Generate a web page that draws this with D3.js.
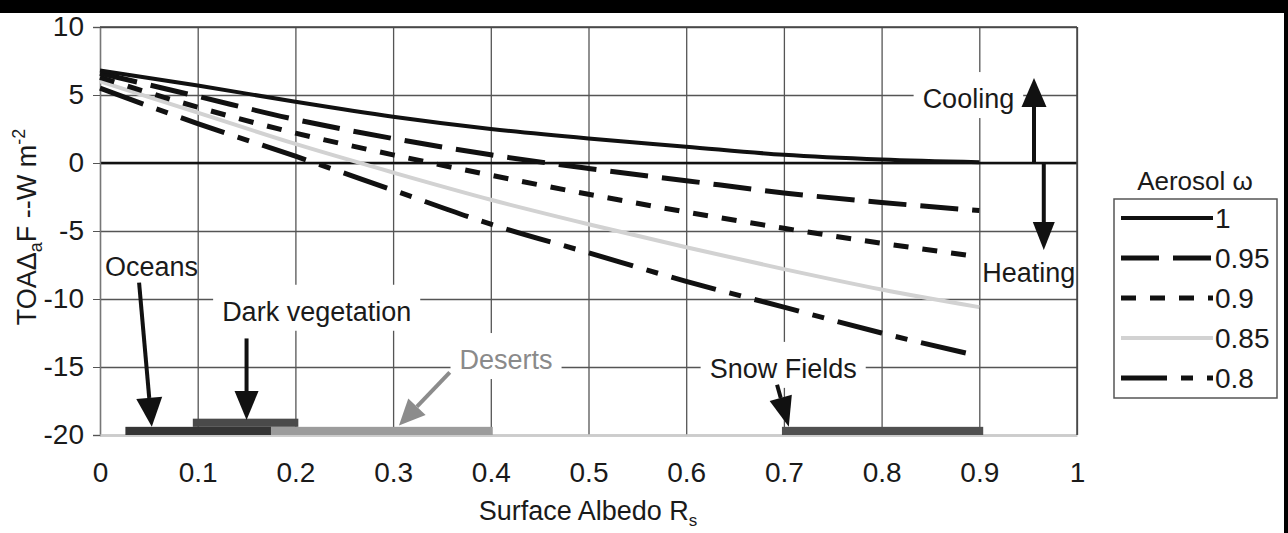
<!DOCTYPE html>
<html>
<head>
<meta charset="utf-8">
<script src="https://cdn.jsdelivr.net/npm/d3@7"></script>
<style>
body { margin: 0; background: #fff; }
svg { display: block; }
text { font-family: "Liberation Sans", Arial, sans-serif; fill: #1a1a1a; }
</style>
</head>
<body>
<div id="chart"></div>
<script>
//surface albedo sample points
var albedo = [0, 0.1, 0.2, 0.3, 0.4, 0.5, 0.6, 0.7, 0.8, 0.9];

//TOA aerosol forcing (W m-2) for each aerosol single scattering albedo
var omega100 = [6.8, 5.7, 4.5, 3.4, 2.5, 1.8, 1.2, 0.6, 0.25, 0.05];
var omega095 = [6.6, 4.9, 3.2, 1.8, 0.6, -0.4, -1.3, -2.2, -2.9, -3.5];
var omega090 = [6.3, 4.1, 2.2, 0.6, -0.9, -2.3, -3.6, -4.8, -5.9, -6.9];
var omega085 = [6.0, 3.7, 1.4, -0.7, -2.7, -4.5, -6.2, -7.8, -9.3, -10.6];
var omega080 = [5.5, 2.9, 0.5, -2.0, -4.5, -6.6, -8.7, -10.6, -12.5, -14.2];
var omegaLabels = ["1", "0.95", "0.9", "0.85", "0.8"];

//tick labels
var xTicks = [0, 0.1, 0.2, 0.3, 0.4, 0.5, 0.6, 0.7, 0.8, 0.9, 1];
var yTicks = [10, 5, 0, -5, -10, -15, -20];

//albedo ranges of surface types
var surfaceNames = ["Dark vegetation", "Oceans", "Deserts", "Snow Fields"];
var surfaceFrom = [0.095, 0.026, 0.175, 0.698];
var surfaceTo = [0.203, 0.175, 0.402, 0.904];
var surfaceLow = [-19.4, -20, -20, -20];
var surfaceHigh = [-18.8, -19.4, -19.4, -19.4];

//annotation arrows (data units): start and tip
var arrowFromX = [0.040, 0.150, 0.358, 0.693, 0.956, 0.966];
var arrowFromY = [-8.8, -12.9, -15.4, -16.3, 0, 0];
var arrowToX = [0.053, 0.150, 0.306, 0.705, 0.956, 0.966];
var arrowToY = [-19.4, -18.9, -19.3, -19.4, 6.25, -6.4];

//annotation texts (data units, left / baseline)
var noteText = ["Oceans", "Dark vegetation", "Deserts", "Snow Fields", "Cooling", "Heating"];
var noteX = [0.005, 0.125, 0.368, 0.624, 0.842, 0.903];
var noteY = [-8.3, -11.6, -15.15, -15.8, 4.04, -8.75];

//Stablish svg size
var svgWidth = 1288;
var svgHeight = 533;

var margin = {top: 27, right: 211, bottom: 98, left: 100};
var width = svgWidth - margin.left - margin.right;
var height = svgHeight - margin.top - margin.bottom;

var svg = d3.select("#chart")
    .append("svg")
    .attr("width", svgWidth)
    .attr("height", svgHeight);

svg.append("rect").attr("width", svgWidth).attr("height", svgHeight).attr("fill", "#fff");

var chartGroup = svg.append("g")
    .attr("transform", `translate(${margin.left}, ${margin.top})`);

var xScale = d3.scaleLinear().domain([0, 1]).range([0, width]);
var yScale = d3.scaleLinear().domain([-20, 10]).range([height, 0]);

//grid lines
chartGroup.append("g")
    .attr("class", "grid")
    .call(d3.axisLeft(yScale).tickValues(yTicks).tickSize(-width).tickFormat(""))
    .call(g => g.select(".domain").remove())
    .selectAll("line").attr("stroke", "#555").attr("stroke-width", 1.3);

chartGroup.append("g")
    .attr("class", "grid")
    .call(d3.axisBottom(xScale).tickValues(xTicks).tickSize(height).tickFormat(""))
    .call(g => g.select(".domain").remove())
    .selectAll("line").attr("stroke", "#555").attr("stroke-width", 1.3);

//zero line
chartGroup.append("line")
    .attr("x1", 0).attr("x2", width)
    .attr("y1", yScale(0)).attr("y2", yScale(0))
    .attr("stroke", "#111").attr("stroke-width", 2.5);

//left axis with ticks
var leftAxis = chartGroup.append("g")
    .call(d3.axisLeft(yScale).tickValues(yTicks).tickSize(7).tickPadding(9).tickFormat(d => String(d)));
leftAxis.select(".domain").attr("stroke", "#777").attr("stroke-width", 1.3);
leftAxis.selectAll("line").attr("stroke", "#555");
leftAxis.selectAll("text").attr("font-size", "28px").attr("fill", "#1a1a1a")
    .attr("font-family", "Liberation Sans, Arial, sans-serif");

//bottom axis labels
var bottomAxis = chartGroup.append("g")
    .attr("transform", `translate(0, ${height})`)
    .call(d3.axisBottom(xScale).tickValues(xTicks).tickSize(0).tickPadding(27).tickFormat(d => String(d)));
bottomAxis.select(".domain").attr("stroke", "#ccc").attr("stroke-width", 2.5);
bottomAxis.selectAll("text").attr("font-size", "28px").attr("fill", "#1a1a1a")
    .attr("font-family", "Liberation Sans, Arial, sans-serif");

//top and right border
chartGroup.append("line").attr("x1", 0).attr("x2", width).attr("y1", 0).attr("y2", 0)
    .attr("stroke", "#444").attr("stroke-width", 1.5);
chartGroup.append("line").attr("x1", width).attr("x2", width).attr("y1", 0).attr("y2", height)
    .attr("stroke", "#444").attr("stroke-width", 1.5);

//annotation texts with white boxes hiding the grid
var boxed = [false, true, true, true, true, false];
var noteColor = ["#1a1a1a", "#1a1a1a", "#8a8a8a", "#1a1a1a", "#1a1a1a", "#1a1a1a"];
var noteGroup = chartGroup.append("g");
var noteLabels = noteText.map(function(t, i){
    return noteGroup.append("text")
        .attr("x", xScale(noteX[i]))
        .attr("y", yScale(noteY[i]))
        .attr("font-size", "27px")
        .style("fill", noteColor[i])
        .text(t);
});
noteLabels.forEach(function(lbl, i){
    if(!boxed[i]) return;
    var b = lbl.node().getBBox();
    noteGroup.insert("rect", "text")
        .attr("x", b.x - 9).attr("y", b.y - 12)
        .attr("width", b.width + 18).attr("height", b.height + 16)
        .attr("fill", "#fff");
});

//aerosol curves
var series = [omega100, omega095, omega090, omega085, omega080];
var seriesStyle = [
    {color: "#111", width: 4, dash: null},
    {color: "#111", width: 5, dash: "38,14"},
    {color: "#111", width: 5, dash: "15,14"},
    {color: "#d2d2d2", width: 4, dash: null},
    {color: "#111", width: 5, dash: "46,14,12,14"}
];

var line = d3.line()
    .x((d, i) => xScale(albedo[i]))
    .y(d => yScale(d))
    .curve(d3.curveMonotoneX);

[3, 4, 2, 1, 0].forEach(function(k){
    chartGroup.append("path")
        .datum(series[k])
        .attr("d", line)
        .attr("fill", "none")
        .attr("stroke", seriesStyle[k].color)
        .attr("stroke-width", seriesStyle[k].width)
        .attr("stroke-dasharray", seriesStyle[k].dash);
});

//surface type bars
var surfaceColor = ["#4a4a4a", "#353535", "#9c9c9c", "#505050"];
surfaceNames.forEach(function(name, i){
    chartGroup.append("rect")
        .attr("x", xScale(surfaceFrom[i]))
        .attr("y", yScale(surfaceHigh[i]))
        .attr("width", xScale(surfaceTo[i]) - xScale(surfaceFrom[i]))
        .attr("height", yScale(surfaceLow[i]) - yScale(surfaceHigh[i]))
        .attr("fill", surfaceColor[i]);
});

//arrows
var arrowColor = ["#111", "#111", "#8c8c8c", "#111", "#111", "#111"];
var arrowHead = [[29, 26], [29, 24], [26, 24], [30, 23], [29, 25], [28, 22]];
function drawArrow(x1, y1, x2, y2, color, hl, hw){
    var dx = x2 - x1, dy = y2 - y1;
    var len = Math.sqrt(dx * dx + dy * dy);
    var ux = dx / len, uy = dy / len;
    var bx = x2 - ux * hl, by = y2 - uy * hl;
    chartGroup.append("line")
        .attr("x1", x1).attr("y1", y1).attr("x2", bx).attr("y2", by)
        .attr("stroke", color).attr("stroke-width", 4);
    chartGroup.append("path")
        .attr("d", `M${x2},${y2}L${bx - uy * hw / 2},${by + ux * hw / 2}L${bx + uy * hw / 2},${by - ux * hw / 2}Z`)
        .attr("fill", color);
}
arrowFromX.forEach(function(v, i){
    drawArrow(xScale(arrowFromX[i]), yScale(arrowFromY[i]), xScale(arrowToX[i]), yScale(arrowToY[i]),
        arrowColor[i], arrowHead[i][0], arrowHead[i][1]);
});

//x axis title
var xTitle = svg.append("text")
    .attr("x", 588).attr("y", 520)
    .attr("text-anchor", "middle")
    .attr("font-size", "27px");
xTitle.append("tspan").text("Surface Albedo R");
xTitle.append("tspan").attr("dy", 6).attr("font-size", "17px").text("s");

//y axis title
var yTitle = svg.append("text")
    .attr("transform", "translate(36, 227) rotate(-90)")
    .attr("text-anchor", "middle")
    .attr("font-size", "27px");
yTitle.append("tspan").text("TOAΔ");
yTitle.append("tspan").attr("dy", 6).attr("font-size", "18px").text("a");
yTitle.append("tspan").attr("dy", -6).text("F --W m");
yTitle.append("tspan").attr("dy", -11).attr("font-size", "18px").text("-2");

//legend
var legend = svg.append("g");
legend.append("text")
    .attr("x", 1195).attr("y", 190)
    .attr("text-anchor", "middle")
    .attr("font-size", "26px")
    .text("Aerosol ω");
legend.append("rect")
    .attr("x", 1114).attr("y", 199)
    .attr("width", 163).attr("height", 199)
    .attr("fill", "#fff").attr("stroke", "#555").attr("stroke-width", 1.5);

var legendY = d3.scalePoint().domain(omegaLabels).range([218, 378]);
omegaLabels.forEach(function(lbl, k){
    legend.append("line")
        .attr("x1", 1121).attr("x2", 1213)
        .attr("y1", legendY(lbl)).attr("y2", legendY(lbl))
        .attr("stroke", seriesStyle[k].color)
        .attr("stroke-width", seriesStyle[k].width)
        .attr("stroke-dasharray", seriesStyle[k].dash);
    legend.append("text")
        .attr("x", 1215).attr("y", legendY(lbl) + 10)
        .attr("font-size", "28px")
        .text(lbl);
});

//black frame edges of the scan
svg.append("rect").attr("x", 0).attr("y", 0).attr("width", svgWidth).attr("height", 13).attr("fill", "#000");
svg.append("rect").attr("x", 1284).attr("y", 0).attr("width", 4).attr("height", svgHeight).attr("fill", "#000");
</script>
</body>
</html>
